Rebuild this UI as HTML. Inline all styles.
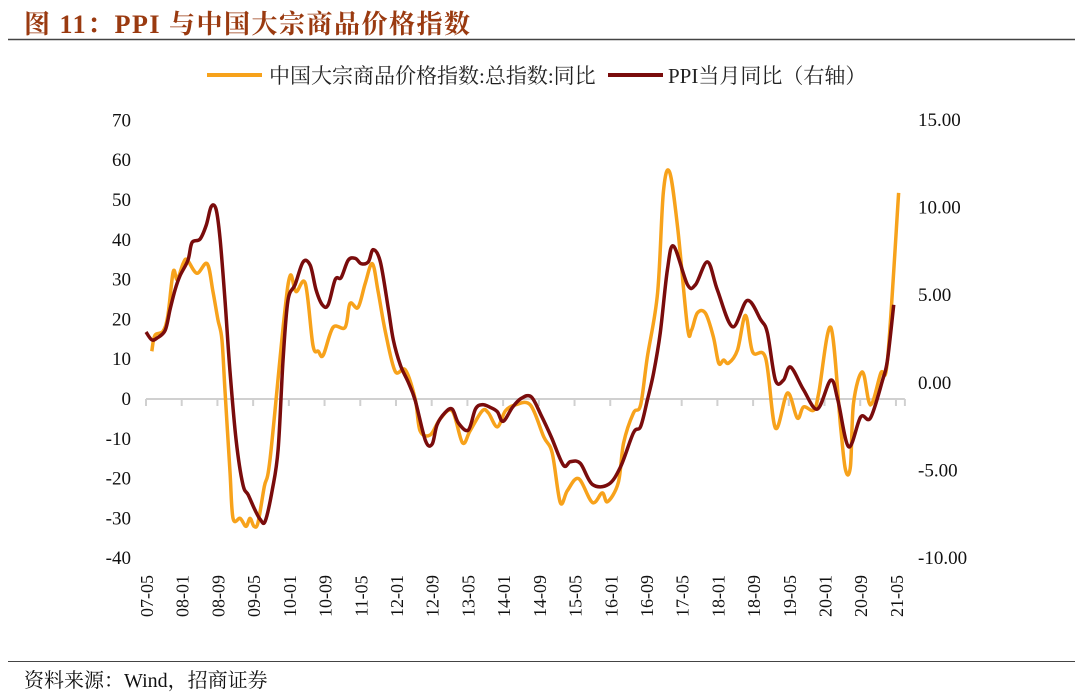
<!DOCTYPE html>
<html><head><meta charset="utf-8">
<style>
body{margin:0;background:#fff;width:1080px;height:697px;overflow:hidden;position:relative;font-family:"Liberation Serif","Noto Serif CJK SC",serif;}
#title{position:absolute;left:24px;top:4px;font-size:26px;font-weight:bold;color:#9a3a10;white-space:nowrap;letter-spacing:1.5px;font-family:"Liberation Serif","Noto Serif CJK SC",serif;}
#src{position:absolute;left:24px;top:664px;font-size:20px;color:#111;white-space:nowrap;}
</style></head><body>
<div id="title">图 11：PPI 与中国大宗商品价格指数</div>
<svg id="chart" width="1080" height="697" style="position:absolute;left:0;top:0"></svg>
<div id="src">资料来源：Wind，招商证券</div>
<script>
const tickLabels=["07-05","08-01","08-09","09-05","10-01","10-09","11-05","12-01","12-09","13-05","14-01","14-09","15-05","16-01","16-09","17-05","18-01","18-09","19-05","20-01","20-09","21-05"];
const leftTicks=[70,60,50,40,30,20,10,0,-10,-20,-30,-40];
const rightTicks=["15.00","10.00","5.00","0.00","-5.00","-10.00"];
const comMonths=[1.3,2,3.8,4.9,6.1,7,8.3,9.2,11.4,13.7,15,16.1,17,17.7,18.8,19.5,21.1,22.4,23.3,24.2,25.1,26.5,27.8,30.9,32.3,33.6,35.7,37.4,38.6,39.7,41.9,44.6,45.7,47.5,49.1,50.7,52,53.6,55.8,58.1,60.3,61.4,63.7,65.9,68.6,70.9,72.6,75.3,76.7,78.7,80.5,82.7,86.1,89.1,91,92.8,94.4,96.9,100,102.2,103.4,105.8,107,109.2,110.8,112.3,114.6,115.9,117.3,119.1,121.3,122.2,123.5,125.3,127.1,128.3,129.4,130.5,132.5,134.3,135.9,138.8,141,143.7,145.9,147.3,149.6,150.7,153.4,155.6,156.7,157.8,158.5,160.5,162.3,164.6,166.1,168.6];
const comValues=[12,16,17,21,32,30,34,35,31.6,34,27,20,15,2,-18,-30,-30,-32,-30,-32,-31,-22,-15,20,31,27,29,13.5,12,11,18,18,24,23,29,34,27,17,7,7.3,0,-8,-9,-5,-3,-11,-8,-3,-3.5,-7,-3,-1.5,-1.5,-9.5,-13.6,-26,-23,-20,-26,-23.6,-25.8,-21,-11,-3.5,-1.5,10.5,26.6,52,57,43,18,17.3,21.6,21.6,15.6,9,9.8,9,12.3,21,11.8,10.3,-7.3,1.5,-4.8,-2,-2.8,1.5,18,-7,-17.8,-17,-1,6.8,-1.5,6.5,9.8,51.8];
const ppiMonths=[0,1.3,2.5,4.3,5.4,6.5,7.6,9.4,10.3,12.1,13.5,14.6,15.7,16.6,17.7,18.8,20.2,21.7,22.9,24.4,25.6,26.7,28.3,29.6,30.7,31.8,33.4,35.2,36.8,38.1,39.5,40.8,42.4,43.7,45.3,46.9,48.2,49.8,50.9,52.5,54.3,55.4,57,58.7,60.3,62.6,64.1,65.2,67,68.6,70,72.2,73.8,75.3,77.1,78.7,80,82.1,84,86.3,88.6,90.8,93.5,95.1,97.3,100,103.6,106.3,109.2,110.8,112.3,113.7,115.2,116.8,118.2,121.3,123.1,125.8,128,131.4,134.7,137.7,139.2,141,142.8,144.4,147.3,150.4,153.4,155,157.4,160.1,162.3,165,166.1,167.5];
const ppiValues=[2.9,2.45,2.56,3.0,4.2,5.3,6.1,7.0,8.0,8.2,9.0,10.05,9.9,8.2,4.7,0.7,-3.3,-5.8,-6.4,-7.25,-7.8,-7.9,-6.1,-3.8,1.3,4.7,5.6,6.9,6.7,5.3,4.45,4.45,5.9,6.0,7.0,7.1,6.8,6.9,7.6,6.9,4.2,2.45,1.0,0.06,-1.0,-3.3,-3.5,-2.4,-1.7,-1.5,-2.3,-2.7,-1.5,-1.25,-1.4,-1.65,-2.2,-1.4,-0.9,-0.8,-1.9,-3.1,-4.7,-4.5,-4.6,-5.8,-5.8,-4.8,-2.85,-2.5,-1.0,0.55,2.85,6.45,7.8,5.6,5.6,6.9,5.3,3.2,4.7,3.6,2.85,0.15,0.15,0.9,-0.4,-1.5,0.15,-1.0,-3.65,-1.95,-2.0,0.15,1.3,4.45];

const NS="http://www.w3.org/2000/svg";
const svg=document.getElementById('chart');
const X=m=>146+m*4.464;
const YL=v=>399-v*3.98;
const YR=v=>382.8-v*17.52;
function mk(tag,attrs,parent){const e=document.createElementNS(NS,tag);for(const k in attrs)e.setAttribute(k,attrs[k]);(parent||svg).appendChild(e);return e;}
let r1=mk('line',{x1:8,y1:39.5,x2:1075,y2:39.5,stroke:'#444','stroke-width':1.5});


let r2=mk('line',{x1:8,y1:661.5,x2:1075,y2:661.5,stroke:'#444','stroke-width':1});


let ax=mk('line',{x1:146,y1:YL(0),x2:X(170),y2:YL(0),stroke:'#d0d0d0','stroke-width':2});


tickLabels.forEach((t,i)=>{
  const x=X(i*8);
  const tk=mk('line',{x1:x,y1:YL(0),x2:x,y2:YL(0)+7,stroke:'#d0d0d0','stroke-width':2});
  
  
  const tx=mk('text',{x:0,y:0,transform:`translate(${x+7},${596}) rotate(-90)`,'font-size':18,'text-anchor':'middle',fill:'#111','font-family':'Liberation Serif,serif'});
  tx.textContent=t;
  
  
});
if(true){const tk=mk('line',{x1:X(170),y1:YL(0),x2:X(170),y2:YL(0)+7,stroke:'#d0d0d0','stroke-width':2});}
leftTicks.forEach(v=>{
  const t=mk('text',{x:131,y:YL(v)+6,'font-size':19,'text-anchor':'end',fill:'#111','font-family':'Liberation Serif,serif'});
  t.textContent=v;
  
  
});
rightTicks.forEach(v=>{
  const t=mk('text',{x:918,y:YR(parseFloat(v))+6,'font-size':19,'text-anchor':'start',fill:'#111','font-family':'Liberation Serif,serif'});
  t.textContent=v;
  
  
});
function smooth(pts){
  let d=`M${pts[0][0]},${pts[0][1]}`;
  for(let i=0;i<pts.length-1;i++){
    const p0=pts[i-1]||pts[i],p1=pts[i],p2=pts[i+1],p3=pts[i+2]||p2;
    const c1=[p1[0]+(p2[0]-p0[0])/6,p1[1]+(p2[1]-p0[1])/6];
    const c2=[p2[0]-(p3[0]-p1[0])/6,p2[1]-(p3[1]-p1[1])/6];
    d+=` C${c1[0]},${c1[1]} ${c2[0]},${c2[1]} ${p2[0]},${p2[1]}`;
  }
  return d;
}
const cp=mk('path',{d:smooth(comMonths.map((m,i)=>[X(m),YL(comValues[i])])),fill:'none',stroke:'#f7a21b','stroke-width':3.5,'stroke-linejoin':'round'});


const pp=mk('path',{d:smooth(ppiMonths.map((m,i)=>[X(m),YR(ppiValues[i])])),fill:'none',stroke:'#7a0c0c','stroke-width':3.5,'stroke-linejoin':'round'});


const lg=mk('g',{});


const l1=mk('line',{x1:207,y1:75,x2:262,y2:75,stroke:'#f7a21b','stroke-width':4},lg);


const t1=mk('text',{x:269,y:83,'font-size':21,fill:'#222','font-family':'Liberation Serif,Noto Serif CJK SC,serif'},lg);
t1.textContent='中国大宗商品价格指数:总指数:同比';


const l2=mk('line',{x1:608,y1:75,x2:663,y2:75,stroke:'#7a0c0c','stroke-width':4},lg);


const t2=mk('text',{x:668,y:83,'font-size':21,fill:'#222','font-family':'Liberation Serif,Noto Serif CJK SC,serif'},lg);
t2.textContent='PPI当月同比（右轴）';


</script>
</body></html>
